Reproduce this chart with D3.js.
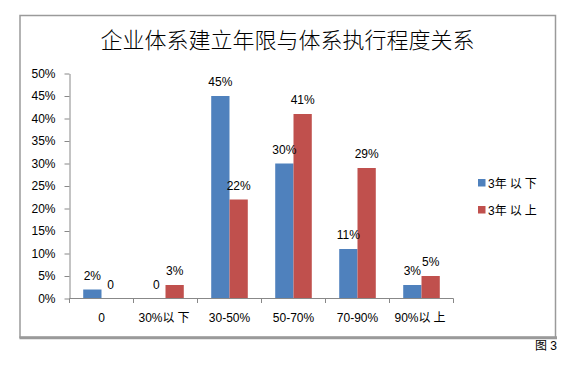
<!DOCTYPE html>
<html>
<head>
<meta charset="utf-8">
<script src="https://cdn.jsdelivr.net/npm/d3@7"></script>
<style>
    body { margin: 0; background: #fff; }
    text { font-family: 'Liberation Sans', Arial, 'Noto Sans CJK SC', sans-serif; }
</style>
</head>
<body>
<div id="chart"></div>
<script>

var title = '企业体系建立年限与体系执行程度关系';
var categories = ['0', '30%以下', '30-50%', '50-70%', '70-90%', '90%以上'];
var seriesNames = ['3年以下', '3年以上'];
var under3 = [0.02, 0, 0.45, 0.30, 0.11, 0.03];
var over3 = [0, 0.03, 0.22, 0.41, 0.29, 0.05];
var yTicks = [0, 0.05, 0.10, 0.15, 0.20, 0.25, 0.30, 0.35, 0.40, 0.45, 0.50];
var colors = ['#4f81bd', '#c0504d'];

var width = 578;
var height = 373;

var svg = d3.select('#chart').append('svg')
    .attr('width', width)
    .attr('height', height);

// chart frame
svg.append('rect')
    .attr('x', 20)
    .attr('y', 15.5)
    .attr('width', 535.5)
    .attr('height', 322)
    .attr('fill', '#fff')
    .attr('stroke', '#9a9a9a')
    .attr('stroke-width', 1.5);

svg.append('line')
    .attr('x1', 19.5).attr('x2', 557)
    .attr('y1', 337.8).attr('y2', 337.8)
    .attr('stroke', '#9a9a9a')
    .attr('stroke-width', 3);

// CJK runs get a little extra spacing, like the original renderer
function richText(sel, str, cjkSpacing) {
    var parts = str.match(/[\u3400-\u9fff]+|[^\u3400-\u9fff]+/g) || [];
    parts.forEach(p => {
        var t = sel.append('tspan').text(p);
        if (/[\u3400-\u9fff]/.test(p)) {
            t.style('font-family', "'Noto Sans CJK SC', sans-serif")
             .style('letter-spacing', cjkSpacing + 'px');
        }
    });
}

svg.append('text')
    .attr('x', 287.5)
    .attr('y', 48)
    .attr('text-anchor', 'middle')
    .style('font-family', "'Noto Sans CJK SC', sans-serif")
    .style('font-size', '22px')
    .style('font-weight', 300)
    .attr('fill', '#000')
    .text(title);

var x0 = d3.scaleBand()
    .domain(categories)
    .range([69.5, 453.5]);

var bw = x0.bandwidth();
var x1 = d3.scaleBand()
    .domain(seriesNames)
    .range([bw * 0.75 / 3.5, bw - bw * 0.75 / 3.5]);

var y = d3.scaleLinear()
    .domain([0, 0.5])
    .range([298.5, 73.5]);

var yAxis = d3.axisLeft(y)
    .tickValues(yTicks)
    .tickFormat(d3.format('.0%'))
    .tickSize(5)
    .tickSizeOuter(0)
    .tickPadding(9);

var gy = svg.append('g')
    .attr('transform', `translate(${x0.range()[0]},0)`)
    .call(yAxis);

gy.select('.domain').attr('stroke', '#888');
gy.selectAll('.tick line').attr('stroke', '#888');
gy.selectAll('.tick text')
    .style('font-size', '12px')
    .attr('fill', '#000');

// bars
var rows = categories.map((c, i) => ({ cat: c, vals: [under3[i], over3[i]] }));

var groups = svg.selectAll('g.cat')
    .data(rows)
    .enter()
    .append('g')
    .attr('class', 'cat')
    .attr('transform', d => `translate(${x0(d.cat)},0)`);

groups.selectAll('rect')
    .data(d => d.vals.map((v, j) => ({ name: seriesNames[j], v: v, j: j })))
    .enter()
    .append('rect')
    .attr('x', d => x1(d.name))
    .attr('y', d => y(d.v))
    .attr('width', x1.bandwidth())
    .attr('height', d => y(0) - y(d.v))
    .attr('fill', d => colors[d.j]);

groups.selectAll('text.lbl')
    .data(d => d.vals.map((v, j) => ({ name: seriesNames[j], v: v, j: j })))
    .enter()
    .append('text')
    .attr('class', 'lbl')
    .attr('x', d => x1(d.name) + x1.bandwidth() / 2)
    .attr('y', d => y(d.v) - 10)
    .attr('text-anchor', 'middle')
    .style('font-size', '12px')
    .attr('fill', '#000')
    .text(d => d.v === 0 ? '0' : d3.format('.0%')(d.v));

// x axis: line, ticks at band edges, labels in centres
var xAxisY = y(0);
svg.append('line')
    .attr('x1', x0.range()[0]).attr('x2', x0.range()[1])
    .attr('y1', xAxisY).attr('y2', xAxisY)
    .attr('stroke', '#888');

var edges = categories.map(c => x0(c)).concat([x0.range()[1]]);
svg.selectAll('line.xtick')
    .data(edges)
    .enter()
    .append('line')
    .attr('class', 'xtick')
    .attr('x1', d => d).attr('x2', d => d)
    .attr('y1', xAxisY).attr('y2', xAxisY + 4.5)
    .attr('stroke', '#888');

svg.selectAll('text.xlbl')
    .data(categories)
    .enter()
    .append('text')
    .attr('class', 'xlbl')
    .attr('x', d => x0(d) + bw / 2)
    .attr('y', 322)
    .attr('text-anchor', 'middle')
    .style('font-size', '12px')
    .attr('fill', '#000')
    .each(function (d) { richText(d3.select(this), d, 3); });

// legend
var legend = svg.selectAll('g.legend')
    .data(seriesNames)
    .enter()
    .append('g')
    .attr('class', 'legend')
    .attr('transform', (d, i) => `translate(478,${179 + i * 27})`);

legend.append('rect')
    .attr('width', 7.5)
    .attr('height', 7.5)
    .attr('fill', (d, i) => colors[i]);

legend.append('text')
    .attr('x', 10)
    .attr('y', 8.5)
    .style('font-size', '12px')
    .attr('fill', '#000')
    .each(function (d) { richText(d3.select(this), d, 3); });

// figure caption
svg.append('text')
    .attr('x', 535)
    .attr('y', 350)
    .style('font-size', '12px')
    .attr('fill', '#000')
    .each(function () { richText(d3.select(this), '图 3', 0); });

</script>
</body>
</html>
